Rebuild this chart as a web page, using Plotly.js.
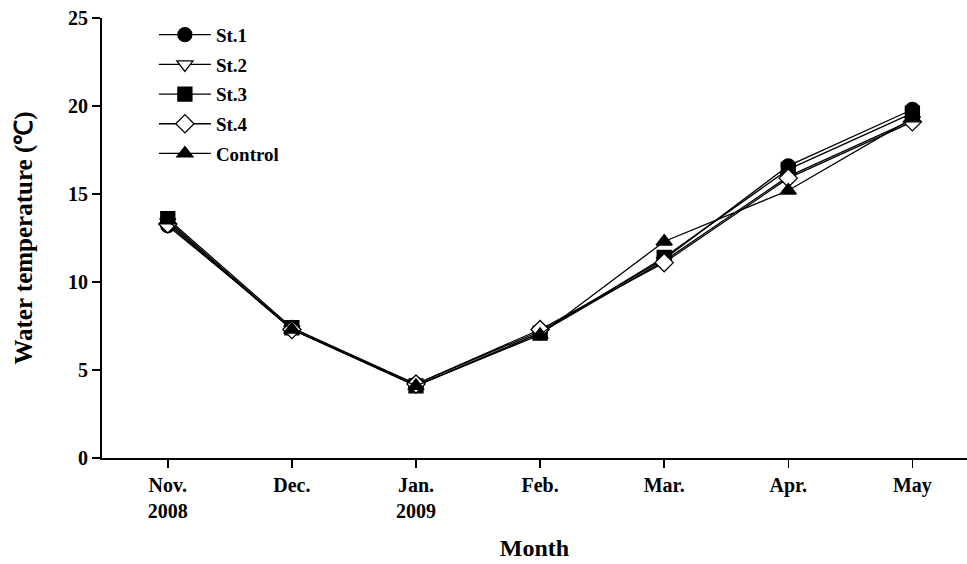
<!DOCTYPE html>
<html>
<head>
<meta charset="utf-8">
<script src="https://cdn.plot.ly/plotly-3.0.1.min.js"></script>
<style>
  html, body { margin: 0; padding: 0; background: #fff; }
  #chart { width: 967px; height: 564px; }
</style>
</head>
<body>
<div id="chart"></div>
<script>
// Monthly water temperature at four stations and a control site
const months = ["Nov.<br>2008", "Dec.", "Jan.<br>2009", "Feb.", "Mar.", "Apr.", "May"];
const st1 = [13.2, 7.4, 4.2, 7.2, 11.3, 16.6, 19.8];
const st2 = [13.4, 7.3, 4.1, 7.1, 11.2, 16.0, 19.2];
const st3 = [13.6, 7.4, 4.1, 7.1, 11.4, 16.4, 19.6];
const st4 = [13.3, 7.3, 4.2, 7.3, 11.1, 15.9, 19.1];
const control = [13.5, 7.3, 4.1, 7.0, 12.3, 15.2, 19.3];

const xIdx = months.map((_, i) => i);
const serif = "Liberation Serif, Times New Roman, serif";

function series(name, y, symbol, fill, group) {
  return {
    type: "scatter",
    mode: "lines+markers",
    name: "<b>" + name + "</b>",
    x: xIdx,
    y: y,
    legendgroup: group,
    line: { color: "#000", width: 1.3 },
    marker: {
      symbol: symbol,
      size: 14,
      color: fill,
      line: { color: "#000", width: 1.3 }
    }
  };
}

const data = [
  series("St.1", st1, "circle", "#000", "a"),
  series("St.2", st2, "triangle-down", "#fff", "b"),
  series("St.3", st3, "square", "#000", "c"),
  series("St.4", st4, "diamond", "#fff", "d"),
  series("Control", control, "triangle-up", "#000", "e")
];

const layout = {
  width: 967,
  height: 564,
  margin: { l: 102, r: 0, t: 18, b: 106 },
  paper_bgcolor: "#fff",
  plot_bgcolor: "#fff",
  showlegend: true,
  legend: {
    x: 0.06, y: 1.005,
    xanchor: "left", yanchor: "top",
    traceorder: "grouped",
    tracegroupgap: 2,
    itemwidth: 52,
    font: { family: serif, size: 19, color: "#000" },
    bgcolor: "rgba(0,0,0,0)"
  },
  xaxis: {
    range: [-0.53, 6.44],
    tickmode: "array",
    tickvals: xIdx,
    ticktext: months.map(m => "<b>" + m + "</b>"),
    ticks: "outside",
    ticklen: 8,
    tickwidth: 1.5,
    tickcolor: "#000",
    showline: true,
    linecolor: "#000",
    linewidth: 2,
    showgrid: false,
    zeroline: false,
    tickfont: { family: serif, size: 20, color: "#000" },
    title: { text: "<b>Month</b>", font: { family: serif, size: 24, color: "#000" }, standoff: 18 }
  },
  yaxis: {
    range: [0, 25],
    tickvals: [0, 5, 10, 15, 20, 25],
    ticktext: ["<b>0</b>", "<b>5</b>", "<b>10</b>", "<b>15</b>", "<b>20</b>", "<b>25</b>"],
    ticks: "outside",
    ticklen: 8,
    tickwidth: 1.5,
    tickcolor: "#000",
    showline: true,
    linecolor: "#000",
    linewidth: 2,
    showgrid: false,
    zeroline: false,
    tickfont: { family: serif, size: 20, color: "#000" },
    title: { text: "<b>Water temperature (℃)</b>", font: { family: serif, size: 25, color: "#000" }, standoff: 28 }
  }
};

Plotly.newPlot("chart", data, layout, { displayModeBar: false, staticPlot: true });
</script>
</body>
</html>
